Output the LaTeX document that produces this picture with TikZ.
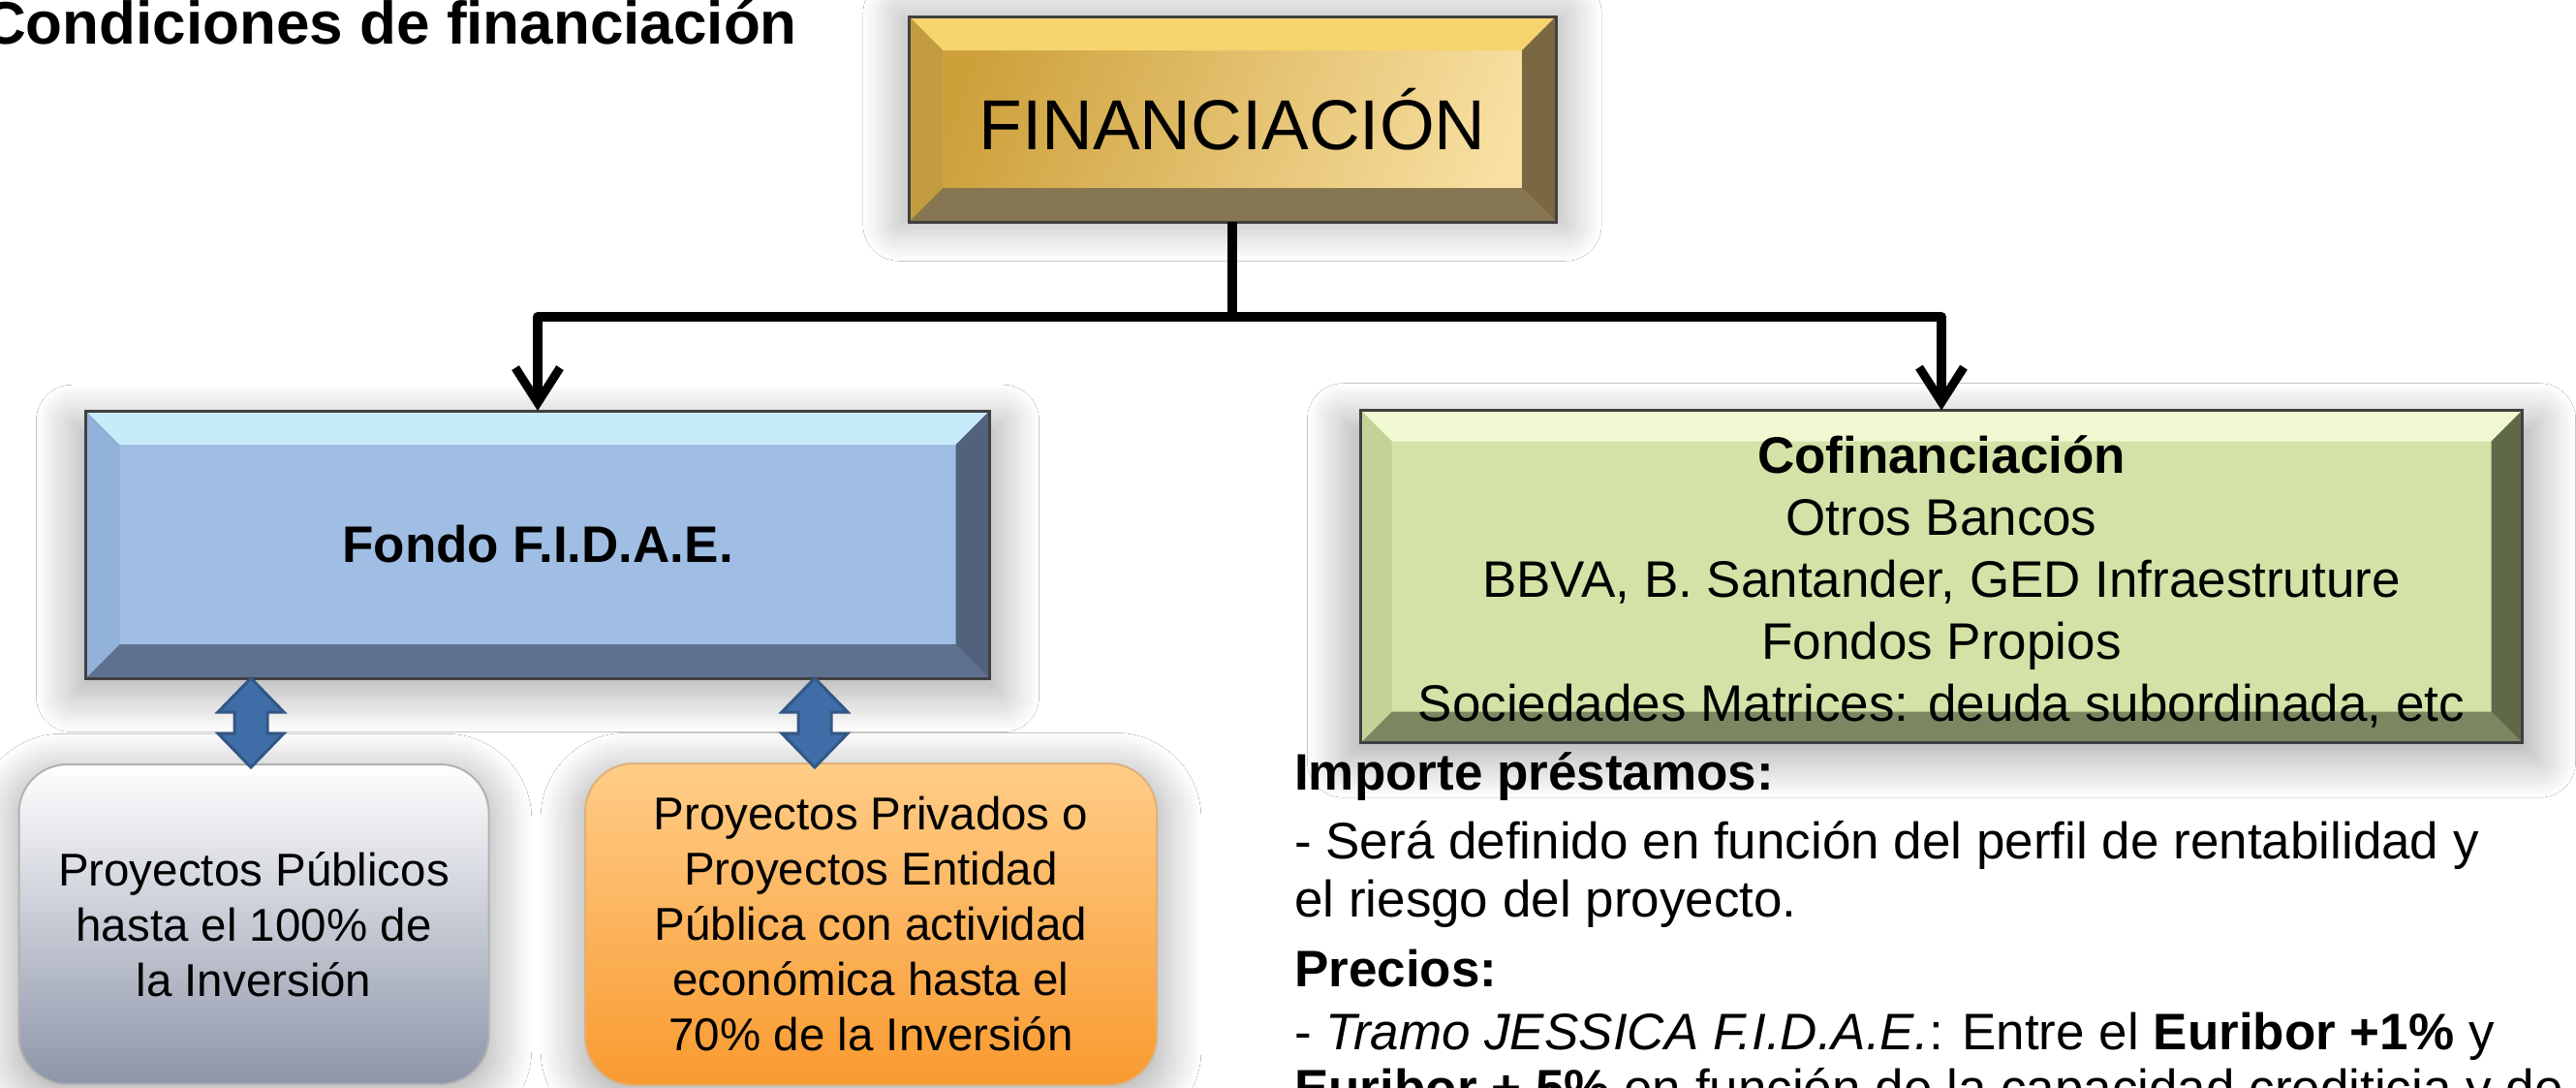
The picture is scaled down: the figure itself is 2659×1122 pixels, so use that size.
\documentclass[tikz,border=0pt]{standalone}
\usepackage{fontspec}
\setmainfont{Liberation Sans}
\usetikzlibrary{arrows.meta,shadows.blur}

\definecolor{goldA}{HTML}{CDA03A}
\definecolor{goldB}{HTML}{F8E0A2}
\definecolor{goldT}{HTML}{F6D46E}
\definecolor{goldD}{HTML}{867752}
\definecolor{goldL}{HTML}{C29C3E}
\definecolor{goldR}{HTML}{7A6842}
\definecolor{blueM}{HTML}{A0BEE4}
\definecolor{blueT}{HTML}{C8EBFA}
\definecolor{blueD}{HTML}{5E7290}
\definecolor{blueL}{HTML}{91B1D9}
\definecolor{blueR}{HTML}{50627C}
\definecolor{greenM}{HTML}{D3E2A7}
\definecolor{greenT}{HTML}{F1F9D2}
\definecolor{greenD}{HTML}{7B8761}
\definecolor{greenL}{HTML}{C3D296}
\definecolor{greenR}{HTML}{5F6948}
\definecolor{grayB}{HTML}{8D95A9}
\definecolor{orngT}{HTML}{FFCD88}
\definecolor{orngB}{HTML}{F99A30}
\definecolor{arrL}{HTML}{9DC0EA}
\definecolor{arrD}{HTML}{3F6DA8}

% bevel: node, depth, top, bottom, left, right
\newcommand\bevel[6]{%
  \fill[#3] (#1.north west) -- (#1.north east) -- ([shift={(-#2,#2)}]#1.north east) -- ([shift={(#2,#2)}]#1.north west) -- cycle;
  \fill[#4] (#1.south west) -- (#1.south east) -- ([shift={(-#2,-#2)}]#1.south east) -- ([shift={(#2,-#2)}]#1.south west) -- cycle;
  \fill[#5] (#1.north west) -- ([shift={(#2,#2)}]#1.north west) -- ([shift={(#2,-#2)}]#1.south west) -- (#1.south west) -- cycle;
  \fill[#6] (#1.north east) -- ([shift={(-#2,#2)}]#1.north east) -- ([shift={(-#2,-#2)}]#1.south east) -- (#1.south east) -- cycle;
  \draw[line width=3pt,black!75] (#1.north west) rectangle (#1.south east);}

\begin{document}
\begin{tikzpicture}[x=1pt,y=-1pt,
  box/.style={outer sep=0pt, inner sep=0pt, align=center, font=\fontsize{53}{64}\selectfont},
  glow/.style={blur shadow={shadow xshift=0pt, shadow yshift=-#1, shadow scale=1.03, shadow blur radius=36pt, shadow blur steps=40, shadow opacity=32}},
  card/.style={box, glow=10pt, rounded corners=50pt, line width=2pt, font=\fontsize{47.5}{57}\selectfont},
  link/.style={line width=10pt, line join=round},
  tip/.style={-{Straight Barb[length=36pt,width=46pt,line width=9pt]}},
  updown/.style={left color=arrD, middle color=arrL, right color=arrD, draw=arrD!80!black, line width=3pt},
  txt/.style={anchor=base west, inner sep=0pt, font=\fontsize{53}{64}\selectfont}]
\useasboundingbox (0,0) rectangle (2659,1122);
\clip (0,0) rectangle (2659,1122);
\fill[white] (0,0) rectangle (2659,1122);

\node[anchor=base west, inner sep=0pt, font=\fontsize{62}{72}\selectfont\bfseries] (title) at (-18,45) {Condiciones de financiación};

% boxes
\node[box, glow=0pt, minimum width=668pt, minimum height=212pt, left color=goldA, right color=goldB, shading angle=70] (fin) at (1272,123) {};
\node[box, glow=14pt, minimum width=933pt, minimum height=276pt, fill=blueM] (fidae) at (555,562) {};
\node[box, glow=14pt, minimum width=1199pt, minimum height=343pt, fill=greenM] (cofin) at (2004,595) {};
\bevel{fin}{35}{goldT}{goldD}{goldL}{goldR}
\bevel{fidae}{35}{blueT}{blueD}{blueL}{blueR}
\bevel{cofin}{32}{greenT}{greenD}{greenL}{greenR}
\node[box, font=\fontsize{73}{80}\selectfont] (finT) at (fin) {FINANCIACIÓN};
\node[box] (fidaeT) at (fidae) {\textbf{Fondo F.I.D.A.E.}};
\node[box] (cofinT) at (2004,600) {\textbf{Cofinanciación}\\Otros Bancos\\BBVA, B. Santander, GED Infraestruture\\Fondos Propios\\Sociedades Matrices: deuda subordinada, etc};

\node[card, minimum width=485pt, minimum height=330pt, top color=white, bottom color=grayB, draw=black!30] (pub) at (262,954) {Proyectos Públicos\\hasta el 100\% de\\la Inversión};
\node[card, minimum width=590pt, minimum height=332pt, top color=orngT, bottom color=orngB, draw=orngB!80!black!60] (priv) at (899,954) {Proyectos Privados o\\Proyectos Entidad\\Pública con actividad\\económica hasta el\\70\% de la Inversión};

% connectors
\coordinate (split) at (1272,327);
\draw[link] (fin) -- (split);
\draw[link, tip] (split) -| (fidae);
\draw[link, tip] (split) -| (cofin);
\foreach \x in {259,841}
  \draw[updown] (\x,700) -- ++(34,35) -- ++(-17,0) -- ++(0,22) -- ++(17,0) -- (\x,792) -- ++(-34,-35) -- ++(17,0) -- ++(0,-22) -- ++(-17,0) -- cycle;

% conditions
\node[txt] (imp) at (1336,815) {\textbf{Importe préstamos:}};
\node[txt] (impA) at (1336,886) {- Será definido en función del perfil de rentabilidad y};
\node[txt] (impB) at (1336,946) {el riesgo del proyecto.};
\node[txt] (prec) at (1336,1018) {\textbf{Precios:}};
\node[txt] (precA) at (1336,1083) {- \textit{Tramo JESSICA F.I.D.A.E.}: Entre el \textbf{Euribor +1\%} y};
\node[txt] (precB) at (1336,1141) {\textbf{Euribor + 5\%} en función de la capacidad crediticia y de};
\end{tikzpicture}
\end{document}
